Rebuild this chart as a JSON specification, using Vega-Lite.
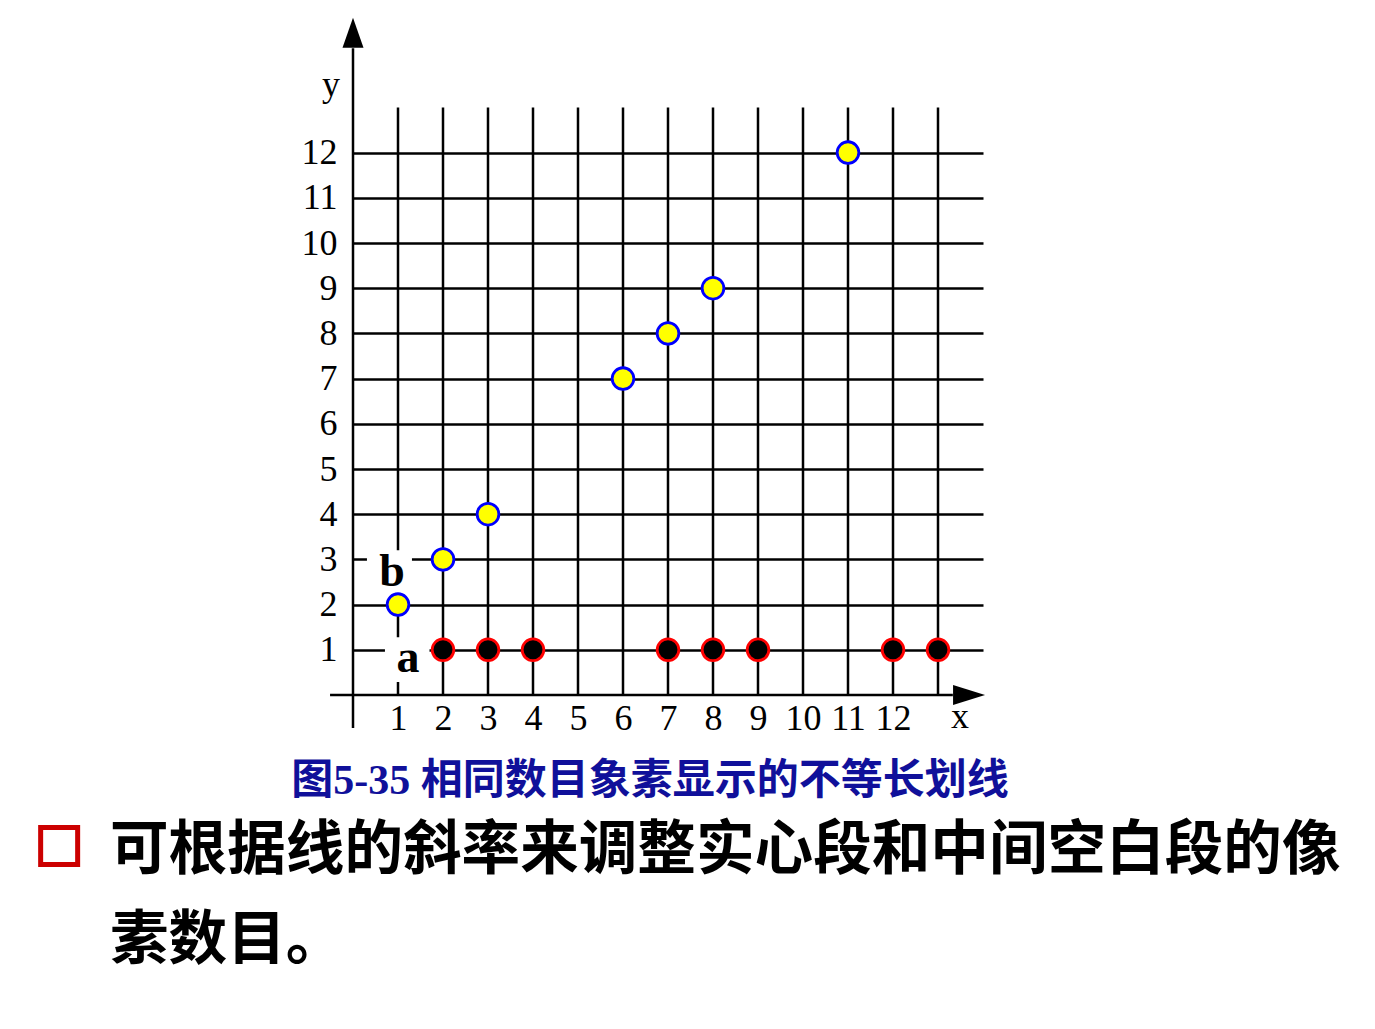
{
  "$schema": "https://vega.github.io/schema/vega-lite/v6.json",
  "autosize": "none",
  "width": 630,
  "height": 678,
  "padding": {"left": 353, "top": 17, "right": 392, "bottom": 334},
  "background": "white",
  "config": {"view": {"stroke": null}},
  "data": {"values": [{}]},
  "datasets": {
    "pts": [
      {"x": 1, "y": 2, "series": "b"},
      {"x": 2, "y": 3, "series": "b"},
      {"x": 3, "y": 4, "series": "b"},
      {"x": 6, "y": 7, "series": "b"},
      {"x": 7, "y": 8, "series": "b"},
      {"x": 8, "y": 9, "series": "b"},
      {"x": 11, "y": 12, "series": "b"},
      {"x": 2, "y": 1, "series": "a"},
      {"x": 3, "y": 1, "series": "a"},
      {"x": 4, "y": 1, "series": "a"},
      {"x": 7, "y": 1, "series": "a"},
      {"x": 8, "y": 1, "series": "a"},
      {"x": 9, "y": 1, "series": "a"},
      {"x": 12, "y": 1, "series": "a"},
      {"x": 13, "y": 1, "series": "a"}
    ],
    "gridx": [
      {"g": 1}, {"g": 2}, {"g": 3}, {"g": 4}, {"g": 5}, {"g": 6}, {"g": 7},
      {"g": 8}, {"g": 9}, {"g": 10}, {"g": 11}, {"g": 12}, {"g": 13}
    ]
  },
  "layer": [
    {
      "data": {"name": "gridx"},
      "mark": {"type": "rule", "color": "black", "strokeWidth": 2.5},
      "encoding": {
        "x": {
          "field": "g", "type": "quantitative",
          "scale": {"domain": [0, 14], "nice": false, "zero": false},
          "axis": {
            "values": [1, 2, 3, 4, 5, 6, 7, 8, 9, 10, 11, 12],
            "grid": false, "domain": false, "ticks": false, "title": null,
            "labelFont": "Liberation Serif", "labelFontSize": 36, "labelColor": "black",
            "labelPadding": 6, "labelFlush": false, "labelOverlap": false, "zindex": 0
          }
        },
        "y": {
          "datum": 0, "type": "quantitative",
          "scale": {"domain": [0, 15], "nice": false, "zero": false},
          "axis": {
            "values": [1, 2, 3, 4, 5, 6, 7, 8, 9, 10, 11, 12],
            "grid": true, "gridColor": "black", "gridWidth": 2.5, "gridOpacity": 1,
            "domain": false, "ticks": false, "title": null,
            "labelFont": "Liberation Serif", "labelFontSize": 36, "labelColor": "black",
            "labelPadding": 16, "labelFlush": false, "labelOverlap": false, "zindex": 0
          }
        },
        "y2": {"datum": 13}
      }
    },
    {
      "mark": {"type": "rule", "color": "black", "strokeWidth": 2.5},
      "encoding": {
        "x": {"datum": -0.51, "type": "quantitative"},
        "x2": {"datum": 13.33},
        "y": {"datum": 0, "type": "quantitative"}
      }
    },
    {
      "mark": {"type": "rule", "color": "black", "strokeWidth": 2.5},
      "encoding": {
        "x": {"datum": 0, "type": "quantitative"},
        "y": {"datum": -0.73, "type": "quantitative"},
        "y2": {"datum": 14.31}
      }
    },
    {
      "mark": {"type": "point", "shape": "M0,-1L0.7,1L-0.7,1Z", "size": 900, "filled": true, "color": "black", "opacity": 1},
      "encoding": {
        "x": {"datum": 0, "type": "quantitative"},
        "y": {"datum": 14.65, "type": "quantitative"}
      }
    },
    {
      "mark": {"type": "point", "shape": "M1,0L-1,-0.625L-1,0.625Z", "size": 1024, "filled": true, "color": "black", "opacity": 1},
      "encoding": {
        "x": {"datum": 13.69, "type": "quantitative"},
        "y": {"datum": 0, "type": "quantitative"}
      }
    },
    {
      "mark": {"type": "rect", "fill": "white"},
      "encoding": {
        "x": {"datum": 0.31, "type": "quantitative"},
        "x2": {"datum": 1.31},
        "y": {"datum": 2.17, "type": "quantitative"},
        "y2": {"datum": 3.2}
      }
    },
    {
      "mark": {"type": "rect", "fill": "white"},
      "encoding": {
        "x": {"datum": 0.71, "type": "quantitative"},
        "x2": {"datum": 1.7},
        "y": {"datum": 0.29, "type": "quantitative"},
        "y2": {"datum": 1.28}
      }
    },
    {
      "data": {"name": "pts"},
      "mark": {"type": "point", "filled": true, "size": 470, "strokeWidth": 2.8, "opacity": 1},
      "encoding": {
        "x": {"field": "x", "type": "quantitative"},
        "y": {"field": "y", "type": "quantitative"},
        "fill": {"field": "series", "type": "nominal", "scale": {"domain": ["a", "b"], "range": ["black", "#ffff00"]}, "legend": null},
        "stroke": {"field": "series", "type": "nominal", "scale": {"domain": ["a", "b"], "range": ["#ff0000", "#0000ff"]}, "legend": null}
      }
    },
    {
      "mark": {"type": "text", "text": "b", "font": "Liberation Serif", "fontWeight": "bold", "fontSize": 46, "align": "center", "baseline": "alphabetic", "color": "black"},
      "encoding": {
        "x": {"datum": 0.87, "type": "quantitative"},
        "y": {"datum": 2.41, "type": "quantitative"}
      }
    },
    {
      "mark": {"type": "text", "text": "a", "font": "Liberation Serif", "fontWeight": "bold", "fontSize": 46, "align": "center", "baseline": "alphabetic", "color": "black"},
      "encoding": {
        "x": {"datum": 1.22, "type": "quantitative"},
        "y": {"datum": 0.51, "type": "quantitative"}
      }
    },
    {
      "mark": {"type": "text", "text": "x", "font": "Liberation Serif", "fontSize": 36, "align": "center", "baseline": "alphabetic", "color": "black"},
      "encoding": {
        "x": {"datum": 13.49, "type": "quantitative"},
        "y": {"datum": -0.73, "type": "quantitative"}
      }
    },
    {
      "mark": {"type": "text", "text": "y", "font": "Liberation Serif", "fontSize": 36, "align": "center", "baseline": "alphabetic", "color": "black"},
      "encoding": {
        "x": {"datum": -0.49, "type": "quantitative"},
        "y": {"datum": 13.25, "type": "quantitative"}
      }
    },
    {
      "mark": {"type": "text", "text": "图5-35 相同数目象素显示的不等长划线", "font": "Liberation Serif, Noto Sans CJK SC", "fontWeight": "bold", "fontSize": 42, "align": "center", "baseline": "middle", "color": "#10109a"},
      "encoding": {
        "x": {"datum": 6.6, "type": "quantitative"},
        "y": {"datum": -1.9, "type": "quantitative"}
      }
    },
    {
      "mark": {"type": "point", "shape": "square", "size": 1369, "filled": false, "stroke": "#cc0000", "strokeWidth": 5, "opacity": 1},
      "encoding": {
        "x": {"datum": -6.53, "type": "quantitative"},
        "y": {"datum": -3.34, "type": "quantitative"}
      }
    },
    {
      "mark": {"type": "text", "text": "可根据线的斜率来调整实心段和中间空白段的像", "font": "Noto Sans CJK SC", "fontWeight": "bold", "fontSize": 58.6, "align": "left", "baseline": "middle", "color": "black"},
      "encoding": {
        "x": {"datum": -5.4, "type": "quantitative"},
        "y": {"datum": -3.45, "type": "quantitative"}
      }
    },
    {
      "mark": {"type": "text", "text": "素数目。", "font": "Noto Sans CJK SC", "fontWeight": "bold", "fontSize": 58.6, "align": "left", "baseline": "middle", "color": "black"},
      "encoding": {
        "x": {"datum": -5.4, "type": "quantitative"},
        "y": {"datum": -5.45, "type": "quantitative"}
      }
    }
  ]
}
